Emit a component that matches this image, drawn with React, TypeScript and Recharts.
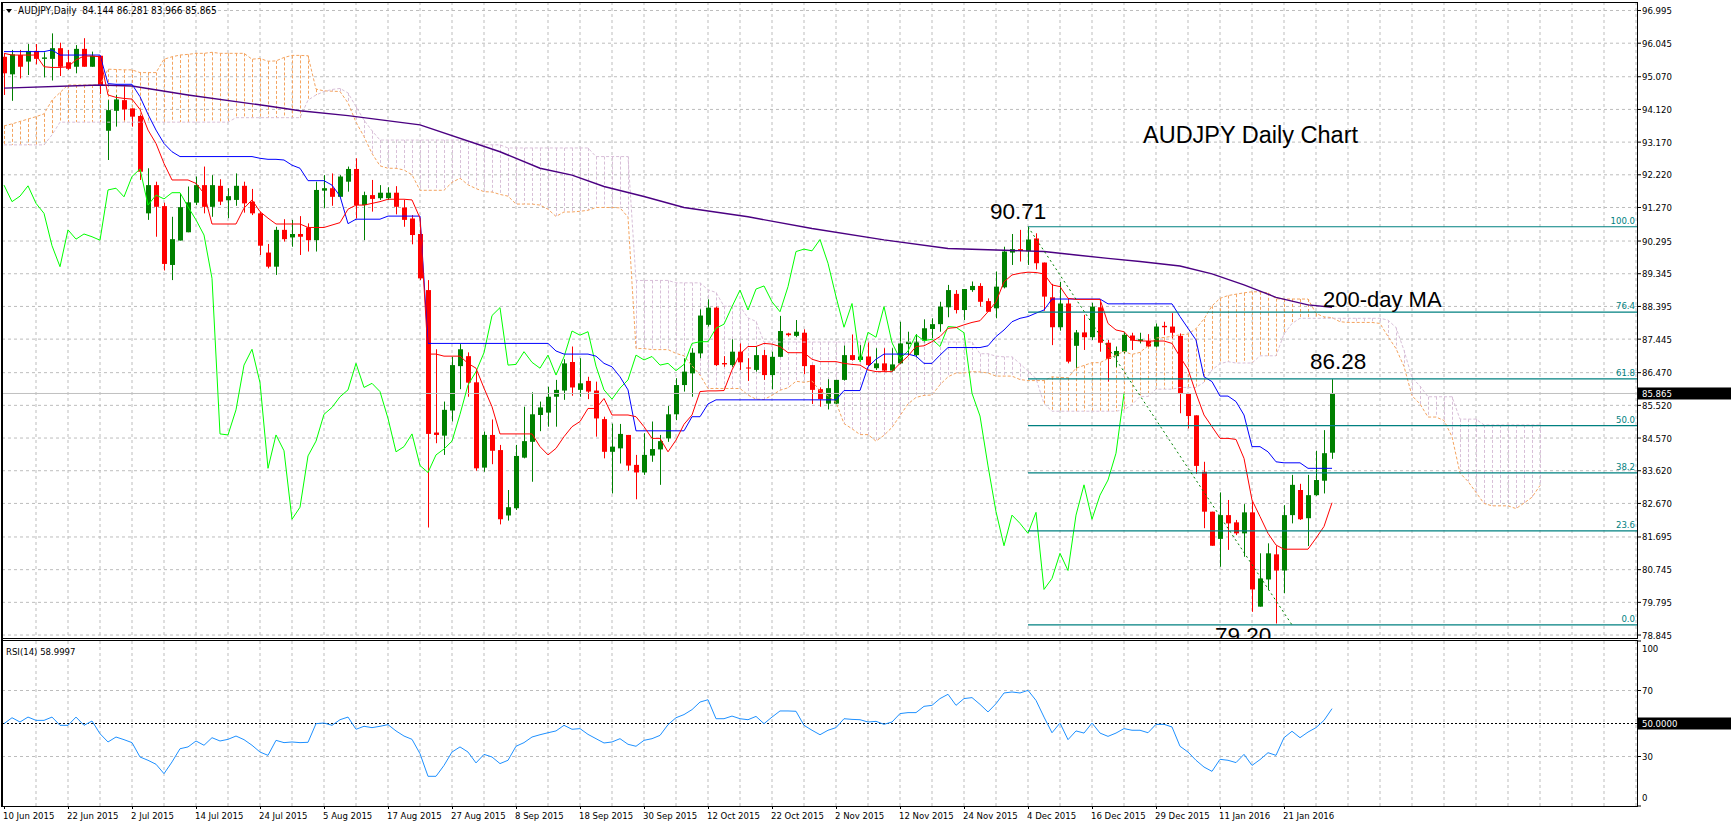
import React from 'react';
import { ComposedChart, Bar, Line, XAxis, YAxis, CartesianGrid, ReferenceLine } from 'recharts';

// AUDJPY daily, 10 Jun 2015 .. 29 Jan 2016
const dateLabels = ['10 Jun 2015', '22 Jun 2015', '2 Jul 2015', '14 Jul 2015', '24 Jul 2015', '5 Aug 2015', '17 Aug 2015', '27 Aug 2015', '8 Sep 2015', '18 Sep 2015', '30 Sep 2015', '12 Oct 2015', '22 Oct 2015', '2 Nov 2015', '12 Nov 2015', '24 Nov 2015', '4 Dec 2015', '16 Dec 2015', '29 Dec 2015', '11 Jan 2016', '21 Jan 2016'];

const opens = [
  95.65, 95.14, 95.70, 95.51, 95.82, 95.59, 95.59, 95.90, 95.49, 95.36, 95.88, 95.36, 95.68,
  93.50, 94.08, 94.39, 94.15, 93.93, 91.10, 91.92, 91.31, 89.60, 90.31, 90.55, 91.41, 91.92,
  91.29, 91.90, 91.48, 91.49, 91.90, 91.44, 91.10, 89.96, 89.55, 90.62, 90.40, 90.50, 90.69, 90.32, 91.76, 91.83, 91.58, 92.02,
  92.39, 91.34, 91.63, 91.54, 91.54, 91.70, 91.27, 90.95, 90.50, 88.87, 84.73, 84.64, 85.37, 86.66, 86.95, 86.19, 83.71, 84.66, 84.22, 82.32, 82.53, 84.00, 84.46,
  85.24, 85.31, 85.77, 85.95, 86.78, 85.97, 86.23, 85.95, 85.12, 84.17, 84.27, 84.66, 83.79, 83.57, 84.06, 84.24, 84.56, 85.26, 86.11,
  86.45, 87.03, 87.86, 88.36, 86.75, 86.69, 87.08, 86.62, 86.55, 86.98, 86.40, 86.93, 87.61, 87.54, 87.63, 86.69, 85.99, 85.57, 85.57, 86.26, 86.98, 86.84, 86.94, 86.60, 86.74, 86.53, 86.74, 87.30, 86.98, 87.40, 87.74, 87.88, 88.37, 88.76, 88.29, 88.87, 88.99, 88.55, 88.34, 88.95, 89.96, 90.06, 90.00,
  90.37, 89.67, 88.66, 87.79, 88.48, 87.25, 87.64, 87.50, 88.37, 87.34, 86.95, 87.08, 87.55, 87.39, 87.39, 87.23, 87.83, 87.81, 87.54, 85.87, 85.23, 83.59, 82.43, 81.64, 82.33, 82.12, 81.80, 82.41, 79.67, 80.46, 81.19, 80.72, 82.33, 83.06, 82.24, 82.91, 83.33, 84.144,
];
const highs = [
  95.75, 95.85, 95.85, 96.02, 96.02, 95.78, 96.33, 96.06, 95.85, 95.99, 96.19, 95.80, 95.68,
  94.39, 94.54, 94.78, 94.15, 93.96, 92.41, 92.02, 91.41, 91.00, 91.68, 91.88, 92.17, 92.46,
  92.21, 92.09, 91.83, 92.26, 92.02, 91.81, 91.15, 90.21, 90.71, 90.93, 90.91, 91.02, 90.81, 92.02, 92.21, 92.26, 92.21, 92.46,
  92.70, 91.73, 92.07, 91.92, 91.86, 91.89, 91.49, 91.05, 90.62, 89.16, 87.15, 85.63, 86.93, 87.30, 87.06, 86.57, 84.76, 85.11, 84.37, 83.06, 84.37, 85.48, 85.90,
  85.63, 86.06, 86.26, 86.86, 87.23, 86.89, 86.35, 86.21, 85.19, 84.99, 84.98, 84.66, 84.08, 84.71, 85.05, 84.66, 85.50, 86.31, 86.89,
  87.18, 88.31, 88.60, 88.39, 86.95, 87.44, 87.32, 86.89, 87.23, 87.13, 87.08, 88.12, 87.63, 88.00, 87.73, 86.69, 86.04, 86.28, 86.26, 87.26, 87.58, 87.27, 87.37, 87.18, 87.18, 87.18, 87.95, 87.66, 87.59, 88.02, 88.05, 88.53, 89.02, 88.87, 88.90, 89.12, 89.07, 88.63, 89.41, 90.13, 90.50, 90.62, 90.71,
  90.52, 89.67, 89.05, 89.11, 88.63, 87.71, 88.15, 88.50, 88.53, 87.42, 87.23, 87.66, 87.63, 87.63, 87.59, 87.90, 87.95, 88.20, 87.61, 85.87, 85.23, 83.88, 82.43, 82.99, 82.77, 82.19, 82.65, 82.72, 81.22, 81.51, 81.43, 82.62, 83.50, 83.24, 83.50, 84.20, 84.80, 86.281,
];
const lows = [
  94.54, 94.37, 95.02, 95.12, 95.43, 95.05, 94.96, 95.09, 95.27, 95.17, 95.36, 95.36, 94.57,
  92.65, 93.62, 93.81, 93.62, 92.07, 90.91, 90.42, 89.44, 89.16, 90.31, 90.55, 91.34, 91.10,
  91.00, 91.34, 90.96, 91.32, 91.12, 91.05, 89.89, 89.50, 89.31, 90.28, 90.13, 89.89, 89.99, 89.99, 91.25, 91.32, 91.58, 91.73,
  90.95, 90.32, 91.15, 91.49, 91.49, 91.07, 90.71, 90.20, 89.16, 81.97, 84.42, 84.08, 85.05, 85.99, 85.77, 83.62, 83.59, 83.81, 82.06, 82.17, 82.48, 83.98, 83.30,
  84.77, 84.90, 84.90, 85.68, 85.80, 85.77, 85.70, 84.61, 83.98, 82.96, 83.83, 83.62, 82.79, 83.50, 83.88, 83.21, 84.46, 85.09, 85.92,
  85.77, 86.89, 87.81, 86.66, 86.64, 86.64, 86.55, 86.23, 86.50, 86.26, 85.99, 86.92, 87.52, 87.50, 86.43, 85.56, 85.48, 85.40, 85.56, 86.24, 86.82, 86.79, 86.66, 86.55, 86.50, 86.50, 86.72, 86.98, 86.92, 87.34, 87.47, 87.66, 88.08, 88.19, 88.00, 88.82, 88.39, 88.24, 88.05, 88.92, 89.60, 89.70, 89.60,
  89.47, 88.27, 87.27, 87.69, 86.74, 86.60, 87.13, 87.42, 87.08, 86.21, 86.63, 87.03, 87.13, 87.32, 87.23, 87.20, 87.56, 87.47, 85.29, 84.85, 83.53, 81.95, 81.44, 80.83, 81.32, 81.75, 81.12, 79.52, 79.67, 80.15, 79.18, 80.06, 82.09, 82.19, 81.43, 82.89, 82.96, 83.966,
];
const closes = [
  95.17, 95.72, 95.36, 95.82, 95.59, 95.63, 95.90, 95.36, 95.30, 95.88, 95.36, 95.68, 94.83,
  94.10, 94.41, 94.12, 93.91, 92.31, 91.92, 91.29, 89.63, 90.35, 91.28, 91.42, 91.92, 91.29,
  91.92, 91.44, 91.60, 91.90, 91.39, 91.10, 90.16, 89.55, 90.62, 90.35, 90.50, 90.42, 90.32, 91.78, 91.83, 91.58, 92.17, 92.39,
  91.34, 91.63, 91.52, 91.70, 91.70, 91.29, 90.91, 90.47, 89.21, 84.69, 84.66, 85.39, 86.69, 87.15, 86.18, 83.69, 84.66, 84.20, 82.21, 82.56, 84.05, 84.48, 85.26,
  85.46, 85.77, 85.97, 86.74, 86.04, 86.16, 85.92, 85.14, 84.17, 84.32, 84.69, 83.77, 83.57, 84.08, 84.25, 84.48, 85.26, 86.11, 86.50,
  87.05, 88.13, 88.36, 86.69, 86.71, 87.08, 86.77, 86.60, 86.98, 86.40, 86.93, 87.68, 87.56, 87.66, 86.66, 85.97, 85.70, 86.02, 86.26, 86.98, 86.84, 86.94, 86.69, 86.74, 86.53, 86.71, 87.32, 87.37, 87.37, 87.76, 87.88, 88.39, 88.87, 88.29, 88.90, 88.99, 88.53, 88.24, 88.97, 89.99, 90.06, 90.01, 90.34,
  89.65, 88.68, 87.79, 88.48, 86.79, 87.64, 87.50, 88.39, 87.34, 86.87, 87.10, 87.57, 87.40, 87.44, 87.23, 87.81, 87.79, 87.63, 85.87, 85.21, 83.76, 82.43, 81.44, 82.33, 82.09, 81.80, 82.41, 80.17, 80.49, 81.22, 80.72, 82.33, 83.21, 82.21, 82.91, 83.35, 84.13, 85.865,
];

// Ichimoku tenkan-sen (red) and kijun-sen (blue), one value per bar
const tenkan = [
  95.75, 95.70, 95.70, 95.70, 95.70, 95.36, 95.34, 95.34, 95.36, 95.56, 95.67, 95.67, 95.65,
  94.54, 94.47, 94.44, 94.42, 94.12, 93.52, 93.13, 92.55, 92.07, 92.07, 92.07, 91.97, 91.68,
  90.79, 90.79, 90.79, 90.79, 91.25, 91.49, 91.15, 90.96, 90.79, 90.79, 90.79, 90.79, 90.69, 90.69, 90.69, 90.76, 90.83, 91.22,
  91.34, 91.34, 91.39, 91.44, 91.51, 91.51, 91.51, 91.49, 90.96, 87.01, 87.01, 86.95, 86.95, 86.95, 86.74, 86.60, 86.02, 85.48, 84.69, 84.69, 84.69, 84.69, 84.69,
  84.32, 84.08, 84.27, 84.61, 84.90, 85.05, 85.43, 85.43, 85.72, 85.24, 85.24, 85.24, 85.19, 84.90, 84.56, 84.56, 84.17, 84.51, 84.97,
  85.24, 85.92, 85.94, 85.94, 85.95, 86.55, 87.01, 87.23, 87.23, 87.32, 87.30, 87.23, 87.05, 87.05, 87.05, 86.86, 86.79, 86.79, 86.79, 86.74, 86.71, 86.69, 86.55, 86.50, 86.50, 86.50, 86.74, 86.95, 87.23, 87.25, 87.37, 87.52, 87.76, 87.78, 87.86, 87.93, 87.98, 88.24, 88.53, 89.11, 89.31, 89.36, 89.39,
  89.38, 89.34, 89.02, 88.97, 88.63, 88.60, 88.60, 88.60, 88.60, 87.90, 87.71, 87.66, 87.42, 87.39, 87.39, 87.39, 87.39, 87.32, 86.93, 86.57, 85.87, 85.24, 84.90, 84.56, 84.56, 84.53, 83.98, 82.77, 82.29, 81.80, 81.46, 81.34, 81.34, 81.34, 81.34, 81.66, 82.00, 82.69,
];
const kijun = [
  95.80, 95.80, 95.80, 95.80, 95.80, 95.80, 95.85, 95.70, 95.70, 95.70, 95.70, 95.70, 95.70,
  94.87, 94.85, 94.85, 94.85, 94.49, 93.98, 93.52, 93.13, 92.89,
  92.75, 92.75, 92.75, 92.75, 92.75, 92.75, 92.75, 92.75, 92.75, 92.75,
  92.70, 92.67, 92.67, 92.65, 92.50, 92.41, 92.05, 92.05, 92.05, 91.92, 91.60, 90.80,
  90.93, 90.93, 90.93, 90.93, 91.02, 91.02, 91.02, 91.02, 91.02,
  87.32, 87.32, 87.32, 87.32, 87.32, 87.32, 87.32, 87.32, 87.32, 87.32, 87.32, 87.32, 87.32, 87.32, 87.32, 87.32,
  87.10, 87.01, 87.01, 87.01, 87.01, 86.95, 86.74, 86.64, 86.35, 85.97,
  84.78, 84.78, 84.78, 84.78, 84.78, 84.78, 84.78, 85.19, 85.19, 85.56,
  85.68, 85.68, 85.68, 85.68, 85.68, 85.68, 85.68, 85.68, 85.68, 85.68, 85.68, 85.68, 85.68, 85.68, 85.68, 85.68,
  85.95, 85.95, 85.95, 86.64, 86.86, 87.01, 87.01, 87.01, 87.01, 86.95, 86.74, 86.74, 86.98,
  87.20, 87.20, 87.20, 87.20, 87.20, 87.25, 87.52, 87.71, 87.95, 88.05, 88.10, 88.20, 88.29,
  88.61, 88.61, 88.61, 88.61, 88.61, 88.61, 88.61,
  88.47, 88.47, 88.47, 88.47, 88.47, 88.47, 88.47, 88.47, 88.47,
  88.10, 87.76, 87.42, 86.35, 86.21, 85.79, 85.79, 85.63, 85.24, 84.32, 84.32, 84.17, 83.88,
  83.85, 83.85, 83.85, 83.69, 83.69, 83.69, 83.69,
];

// senkou span A (sandy brown) and B (thistle), bars 0..192 (26 bars ahead)
const spanA = [
  93.64, 93.70, 93.77, 93.84, 93.91, 93.99, 94.39, 94.61, 94.83, 94.83, 94.83, 94.83, 94.83, 95.29, 95.28, 95.27, 95.27, 95.19, 95.19, 95.19, 95.58, 95.65, 95.70, 95.72, 95.75, 95.75,
  95.78, 95.75, 95.75, 95.75, 95.75, 95.58, 95.60, 95.52, 95.53, 95.63, 95.69, 95.69, 95.68, 94.71, 94.66, 94.65, 94.64, 94.31, 93.75, 93.33, 92.84, 92.48, 92.41, 92.41, 92.36, 92.22, 91.77, 91.77, 91.77, 91.77, 92.00, 92.12, 91.93, 91.82,
  91.73, 91.72, 91.65, 91.60, 91.37, 91.37, 91.37, 91.34, 91.22, 91.01, 91.14, 91.14, 91.16, 91.19, 91.27, 91.27, 91.27, 91.26, 90.99, 87.17, 87.17, 87.14, 87.14, 87.14, 87.03, 86.96,
  86.67, 86.40, 86.01, 86.01, 86.01, 86.01, 86.01, 85.82, 85.70, 85.69, 85.81, 85.96, 86.03, 86.22, 86.19, 86.23, 85.94, 85.80, 85.61, 84.99, 84.84, 84.67, 84.67, 84.48, 84.65, 84.88, 85.22, 85.56, 85.75, 85.81, 85.82, 86.12, 86.35, 86.46, 86.46, 86.50, 86.49, 86.46, 86.37, 86.37, 86.37, 86.27, 86.24,
  86.24, 86.24, 86.35, 86.33, 86.32, 86.60, 86.68, 86.76, 86.76, 86.88, 86.98, 87.09, 87.00, 87.06, 87.25, 87.48, 87.49, 87.53, 87.57, 87.59, 87.75, 88.03, 88.41, 88.63, 88.71, 88.75, 88.79, 88.82, 88.82, 88.79, 88.62, 88.61, 88.61, 88.61, 88.61, 88.19, 88.09, 88.07,
  87.95, 87.93, 87.93, 87.93, 87.93, 87.90, 87.52, 87.17, 86.65, 85.80, 85.56, 85.18, 85.18, 85.08, 84.61, 83.55, 83.31, 82.99, 82.67, 82.60, 82.60, 82.60, 82.52, 82.68, 82.85, 83.19,
];
const spanB = [
  93.09, 93.09, 93.09, 93.09, 93.09, 93.09, 93.38,
  93.75, 93.75, 93.75, 93.75, 93.75, 93.75, 93.75, 93.75, 93.75, 93.75, 93.75, 93.75, 93.75, 93.75, 93.75, 93.75, 93.75, 93.75, 93.75, 93.75, 93.75, 93.75,
  93.88, 93.88, 93.88, 93.88, 93.88, 93.88, 93.88, 93.88, 93.88,
  94.39, 94.54, 94.64, 94.70, 94.73, 94.60, 94.20, 93.81, 93.50,
  93.23, 93.23, 93.23, 93.23, 93.23, 93.23, 93.23, 93.23, 93.23, 93.23, 93.23,
  93.20, 93.15, 93.10, 93.09, 93.09,
  93.00, 93.00, 93.00, 93.00, 93.00, 93.00, 93.00, 93.00, 93.00, 93.00, 93.00,
  92.75, 92.75, 92.75, 92.75, 92.75,
  89.15, 89.15, 89.15, 89.15, 89.15, 89.08, 89.08, 89.08, 89.08, 88.88, 88.80, 88.40, 88.40, 88.40, 88.06, 87.96,
  87.36, 87.36, 87.36, 87.36, 87.36, 87.36, 87.36, 87.36, 87.36, 87.36, 87.36, 87.36, 87.36, 87.36, 87.36, 87.36, 87.36, 87.36, 87.36, 87.36, 87.36, 87.36, 87.36, 87.36, 87.36, 87.36, 87.36,
  87.02, 87.02, 86.95, 86.93, 86.93, 86.73, 86.51, 86.30, 85.57,
  85.35, 85.35, 85.35, 85.35, 85.35, 85.35, 85.35, 85.35, 85.35,
  85.39, 85.54, 85.78, 85.78, 85.99, 85.99, 85.99, 86.04, 86.04, 86.04, 86.19, 86.55, 86.73, 86.79, 86.75, 86.75, 86.75, 86.96, 86.96, 86.96, 87.59, 87.90,
  88.05, 88.05, 88.05, 88.05, 88.05, 88.05, 88.05, 88.05, 88.05, 88.05, 88.05,
  88.00, 87.78, 87.12, 86.33, 86.08, 85.77, 85.77, 85.77, 85.77, 85.12, 85.12, 85.12,
  84.95, 84.95, 84.95, 84.95, 84.95, 84.95, 84.95, 84.95,
];

// 200-day moving average [bar, value]
const ma200 = [
  [0, 94.74], [12, 94.83], [16, 94.80], [23, 94.54], [33, 94.22], [37, 94.08], [43, 93.94], [52, 93.67], [62, 92.89],
  [67, 92.41], [71, 92.21], [75, 91.88], [80, 91.59], [85, 91.27], [93, 91.00], [101, 90.66], [110, 90.33], [118, 90.08],
  [126, 90.02], [130, 89.99], [134, 89.89], [138, 89.79], [142, 89.70], [147, 89.57], [151, 89.34], [155, 89.02],
  [159, 88.66], [163, 88.44], [166, 88.37],
];

const rsi14 = [
  49.9, 53.5, 50.9, 53.9, 51.9, 51.9, 53.9, 48.9, 48.9, 53.9, 48.9, 51.5, 43.8, 38.8, 41.8, 40.2, 38.4, 29.7, 27.7, 25.3,
  19.6, 26.7, 34.7, 35.8, 39.4, 36.8, 41.4, 39.4, 40.4, 42.4, 40.2, 36.8, 32.7, 30.7, 39.8, 38.4, 38.8, 38.4, 38.6,
  49.9, 50.3, 48.9, 52.3, 53.9, 46.5, 48.3, 47.5, 48.3, 49.3, 45.5, 42.4, 40.4, 31.7, 18.0, 18.0, 24.6, 32.7, 35.8, 32.7,
  26.1, 31.3, 29.7, 25.7, 27.7, 36.2, 38.4, 41.8, 43.2, 44.4, 45.5, 48.9, 46.5, 46.9, 43.4, 40.8, 38.2, 38.8, 40.8, 37.4,
  36.2, 39.8, 40.8, 42.8, 49.3, 53.5, 55.4, 58.4, 63.0, 64.4, 52.9, 52.9, 54.5, 52.9, 52.3, 54.3, 49.9, 53.9, 57.6, 57.6,
  57.4, 48.9, 45.9, 43.2, 45.9, 47.5, 52.9, 52.5, 52.3,
  50.9, 51.3, 49.5, 50.9, 56.0, 56.6, 56.6, 60.4, 61.0, 65.1, 67.7, 61.0, 65.1, 65.7, 61.6, 57.0, 62.0, 68.5, 69.1, 68.5,
  70.1, 64.0, 53.9, 44.4, 50.3, 40.2, 45.5, 44.2, 50.3, 44.2, 42.2, 44.2, 46.9, 45.9, 45.9, 44.4, 49.5, 49.5, 47.9, 36.2,
  32.7, 27.7, 23.6, 21.0, 28.3, 27.7, 26.3, 31.3, 24.6, 28.1, 32.3, 30.7, 41.4, 45.3, 41.4, 44.8, 47.5, 51.9, 59.0,
];

const priceTicks = [96.995, 96.045, 95.07, 94.12, 93.17, 92.22, 91.27, 90.295, 89.345, 88.395, 87.445, 86.47, 85.52, 84.57, 83.62, 82.67, 81.695, 80.745, 79.795, 78.845];
const rsiTicks = [0, 30, 50, 70, 100];
const fibLevels = [90.71, 88.23, 86.29, 84.93, 83.56, 81.87, 79.14];
const fibNames = ['100.0', '76.4', '61.8', '50.0', '38.2', '23.6', '0.0'];
const fibStartBar = 128;
const fibEndBar = 161;
const lastPrice = 85.865;

// ---- layout ----
const W = 1731;
const PLOT_R = 1637;
const X_DOMAIN: [number, number] = [-0.25, 204.125];
const Y_DOMAIN: [number, number] = [78.759, 97.242];
const AXIS_FONT = "'DejaVu Sans Condensed', 'DejaVu Sans', sans-serif";
const BIG_FONT = "'Liberation Sans', Arial, sans-serif";
const GRID = '#bdbdbd';
const BULL = '#008000';
const BEAR = '#ff0000';
const SANDY = '#f4a460';
const THISTLE = '#d8bfd8';
const TEAL = '#008080';

const gridBars = Array.from({ length: 51 }, (_, k) => 4 + 4 * k);
const labelBars = dateLabels.map((_, k) => k * 8);
const maByBar = new Map(ma200.map(([b, v]) => [b, v]));

const mainRows = spanA.map((_, i) => ({
  i,
  o: opens[i] ?? null,
  h: highs[i] ?? null,
  l: lows[i] ?? null,
  c: closes[i] ?? null,
  tenkan: tenkan[i] ?? null,
  kijun: kijun[i] ?? null,
  chikou: closes[i + 26] ?? null,
  ma: maByBar.get(i) ?? null,
  sa: spanA[i] ?? null,
  sb: spanB[i] ?? null,
}));

const rsiRows = rsi14.map((v, i) => ({ i, rsi: v }));

const Candle = (props: any) => {
  const { x, y, width, height, payload } = props;
  if (!payload || payload.h == null || y == null) return null;
  const top = Math.min(y, y + height);
  const hgt = Math.abs(height);
  const span = payload.h - payload.l;
  const k = span > 0 ? hgt / span : 0;
  const cx = Math.round(x + width / 2);
  const col = payload.c >= payload.o ? BULL : BEAR;
  const bTop = top + (payload.h - Math.max(payload.o, payload.c)) * k;
  const bBot = top + (payload.h - Math.min(payload.o, payload.c)) * k;
  return (
    <g>
      <line x1={cx + 0.5} x2={cx + 0.5} y1={top} y2={top + hgt} stroke={col} />
      <rect x={cx - 2} y={bTop} width={5} height={Math.max(1, bBot - bTop)} fill={col} />
    </g>
  );
};

const Hatch = (props: any) => {
  const { x, y, width, height, payload } = props;
  if (!payload || payload.sa == null || payload.sb == null || y == null) return null;
  const cx = Math.round(x + width / 2) + 0.5;
  const top = Math.min(y, y + height);
  const col = payload.sa >= payload.sb ? SANDY : THISTLE;
  return <line x1={cx} x2={cx} y1={top} y2={top + Math.abs(height)} stroke={col} strokeDasharray="3 2" />;
};

const PriceTick = (p: any) => (
  <g>
    <line x1={PLOT_R} x2={PLOT_R + 4} y1={p.y} y2={p.y} stroke="#000" />
    <text x={PLOT_R + 5} y={p.y} dy={3.5} fontSize={9.5} fontFamily={AXIS_FONT} fill="#000">
      {Number(p.payload.value).toFixed(3)}
    </text>
  </g>
);

const lineY = (vb: any) => (vb?.y1 != null ? vb.y1 : vb?.y ?? 0);
const lineXR = (vb: any) => (vb?.x2 != null ? Math.max(vb.x1, vb.x2) : (vb?.x ?? 0) + (vb?.width ?? 0));

const FibLabel = (props: any) => (
  <text x={lineXR(props.viewBox) - 2} y={lineY(props.viewBox) - 3} textAnchor="end" fontSize={9.5} fontFamily={AXIS_FONT} fill={TEAL}>
    {props.text}
  </text>
);

const PriceBox = (props: any) => {
  const y = lineY(props.viewBox);
  return (
    <g>
      <rect x={PLOT_R + 1} y={y - 6} width={W - PLOT_R - 1} height={12} fill="#000" />
      <text x={PLOT_R + 5} y={y} dy={3.5} fontSize={9.5} fontFamily={AXIS_FONT} fill="#fff">{props.text}</text>
    </g>
  );
};

const RsiTick = (p: any) => {
  const v = p.payload.value;
  const dy = v === 100 ? 7 : v === 0 ? -9 : 0;
  if (v === 50) {
    return (
      <g>
        <rect x={PLOT_R + 1} y={p.y - 6} width={W - PLOT_R - 1} height={12} fill="#000" />
        <text x={PLOT_R + 5} y={p.y} dy={3.5} fontSize={9.5} fontFamily={AXIS_FONT} fill="#fff">50.0000</text>
      </g>
    );
  }
  return (
    <g>
      <line x1={PLOT_R} x2={PLOT_R + 4} y1={p.y} y2={p.y} stroke="#000" />
      <text x={PLOT_R + 5} y={p.y + dy} dy={3.5} fontSize={9.5} fontFamily={AXIS_FONT} fill="#000">{v}</text>
    </g>
  );
};

const DateTick = (p: any) => {
  const k = labelBars.indexOf(p.payload.value);
  return (
    <g>
      <line x1={p.x + 0.5} x2={p.x + 0.5} y1={166} y2={169} stroke="#000" />
      <text x={p.x - 1} y={178.5} fontSize={9.5} fontFamily={AXIS_FONT} fill="#000">{dateLabels[k]}</text>
    </g>
  );
};

function MainPanel() {
  return (
    <ComposedChart width={W} height={640} data={mainRows} margin={{ top: 2, right: 0, bottom: 2, left: 2 }}>
      <XAxis xAxisId="c" type="number" dataKey="i" domain={X_DOMAIN} ticks={gridBars} allowDataOverflow hide />
      <XAxis xAxisId="h" type="number" dataKey="i" domain={X_DOMAIN} ticks={gridBars} allowDataOverflow hide />
      <YAxis
        yAxisId="p"
        orientation="right"
        width={94}
        domain={Y_DOMAIN}
        ticks={priceTicks}
        interval={0}
        allowDataOverflow
        axisLine={false}
        tickLine={false}
        tick={<PriceTick />}
      />
      <CartesianGrid xAxisId="c" yAxisId="p" stroke={GRID} strokeDasharray="3 3" verticalValues={gridBars} horizontalValues={priceTicks} />

      <Bar xAxisId="h" yAxisId="p" dataKey={(d: any) => (d.sa == null ? null : [Math.min(d.sa, d.sb), Math.max(d.sa, d.sb)])} barSize={1} shape={<Hatch />} isAnimationActive={false} />
      <Line xAxisId="c" yAxisId="p" type="linear" dataKey="sa" stroke={SANDY} strokeDasharray="3 2" dot={false} activeDot={false} isAnimationActive={false} />
      <Line xAxisId="c" yAxisId="p" type="linear" dataKey="sb" stroke={THISTLE} strokeDasharray="3 2" dot={false} activeDot={false} isAnimationActive={false} />

      <ReferenceLine xAxisId="c" yAxisId="p" y={lastPrice} stroke="#c0c0c0" label={<PriceBox text="85.865" />} />

      <Bar xAxisId="c" yAxisId="p" dataKey={(d: any) => (d.h == null ? null : [d.l, d.h])} barSize={5} shape={<Candle />} isAnimationActive={false} />

      <Line xAxisId="c" yAxisId="p" type="linear" dataKey="ma" stroke="#4b0082" strokeWidth={1.4} connectNulls dot={false} activeDot={false} isAnimationActive={false} />
      <Line xAxisId="c" yAxisId="p" type="linear" dataKey="chikou" stroke="#00ff00" dot={false} activeDot={false} isAnimationActive={false} />
      <Line xAxisId="c" yAxisId="p" type="linear" dataKey="kijun" stroke="#0000ff" dot={false} activeDot={false} isAnimationActive={false} />
      <Line xAxisId="c" yAxisId="p" type="linear" dataKey="tenkan" stroke="#ff0000" dot={false} activeDot={false} isAnimationActive={false} />

      {fibLevels.map((v, k) => (
        <ReferenceLine
          key={fibNames[k]}
          xAxisId="c"
          yAxisId="p"
          segment={[{ x: fibStartBar, y: v }, { x: X_DOMAIN[1], y: v }]}
          stroke={TEAL}
          strokeWidth={1.2}
          ifOverflow="visible"
          label={<FibLabel text={fibNames[k]} />}
        />
      ))}
      <ReferenceLine
        xAxisId="c"
        yAxisId="p"
        segment={[{ x: fibStartBar, y: fibLevels[0] }, { x: fibEndBar, y: fibLevels[6] }]}
        stroke="#008000"
        strokeDasharray="2 3"
        ifOverflow="visible"
      />
    </ComposedChart>
  );
}

function RsiPanel() {
  return (
    <ComposedChart width={W} height={184} data={rsiRows} margin={{ top: 1, right: 0, bottom: 0, left: 2 }}>
      <XAxis
        type="number"
        dataKey="i"
        domain={X_DOMAIN}
        ticks={labelBars}
        interval={0}
        allowDataOverflow
        height={18}
        axisLine={false}
        tickLine={false}
        tick={<DateTick />}
      />
      <YAxis
        orientation="right"
        width={94}
        domain={[0, 100]}
        ticks={rsiTicks}
        interval={0}
        axisLine={false}
        tickLine={false}
        tick={<RsiTick />}
      />
      <CartesianGrid stroke={GRID} strokeDasharray="3 3" verticalValues={gridBars} horizontalValues={[30, 70]} />
      <ReferenceLine y={50} stroke="#000" strokeDasharray="2 2" />
      <Line type="linear" dataKey="rsi" stroke="#1e90ff" dot={false} activeDot={false} isAnimationActive={false} />
    </ComposedChart>
  );
}

export default function App() {
  return (
    <div style={{ position: 'absolute', left: 0, top: 0, width: W, height: 824, background: '#fff', overflow: 'hidden' }}>
      <div style={{ position: 'absolute', left: 0, top: 0 }}>
        <MainPanel />
      </div>
      <div style={{ position: 'absolute', left: 0, top: 640 }}>
        <RsiPanel />
      </div>
      <svg width={W} height={824} style={{ position: 'absolute', left: 0, top: 0, pointerEvents: 'none' }}>
        <defs>
          <clipPath id="mainClip">
            <rect x={0} y={0} width={W} height={639} />
          </clipPath>
        </defs>
        {/* panel frames */}
        <rect x={2.5} y={2.5} width={PLOT_R - 2} height={636} fill="none" stroke="#000" />
        <rect x={2.5} y={640.5} width={PLOT_R - 2} height={166} fill="none" stroke="#000" />
        <line x1={2} x2={2} y1={2} y2={807} stroke="#000" strokeWidth={2} />

        {/* header texts */}
        <path d="M6 9 L12 9 L9 13 Z" fill="#000" />
        <text x={18} y={14} fontSize={10} fontFamily={AXIS_FONT} fill="#000" style={{ whiteSpace: 'pre' }}>
          {'AUDJPY,Daily  84.144 86.281 83.966 85.865'}
        </text>
        <text x={6} y={655} fontSize={9.5} fontFamily={AXIS_FONT} fill="#000">RSI(14) 58.9997</text>

        {/* annotations */}
        <text x={1143} y={143} fontSize={23.5} fontFamily={BIG_FONT} fill="#000">AUDJPY Daily Chart</text>
        <text x={990} y={219} fontSize={22.5} fontFamily={BIG_FONT} fill="#000">90.71</text>
        <text x={1323} y={307} fontSize={22} fontFamily={BIG_FONT} fill="#000">200-day MA</text>
        <text x={1310} y={369} fontSize={22.5} fontFamily={BIG_FONT} fill="#000">86.28</text>
        <g clipPath="url(#mainClip)">
          <text x={1215} y={643} fontSize={22.5} fontFamily={BIG_FONT} fill="#000">79.20</text>
        </g>
      </svg>
    </div>
  );
}
